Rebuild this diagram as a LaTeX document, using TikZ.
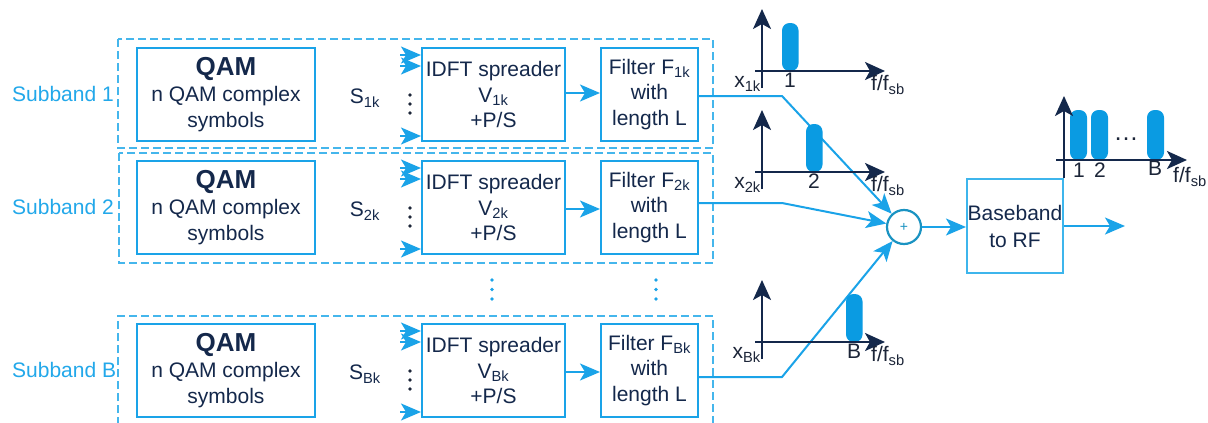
\documentclass[tikz,border=0pt]{standalone}
\usepackage{fontspec}
\setmainfont{Liberation Sans}
\usetikzlibrary{arrows.meta}
\definecolor{cyanl}{HTML}{1AA3E8}
\definecolor{dashc}{HTML}{45B6EC}
\definecolor{navy}{HTML}{14284B}
\definecolor{barc}{HTML}{0A9BE2}
\definecolor{sumc}{HTML}{1A93C2}
\definecolor{subc}{HTML}{22A8EA}
\definecolor{bbc}{HTML}{3DB5EC}
\definecolor{txtd}{HTML}{1C2538}
\newcommand\sbt[1]{\textsubscript{#1}}
\begin{document}
\begin{tikzpicture}[x=1pt,y=-1pt,
  font=\fontsize{21}{25.5}\selectfont,
  blk/.style={draw=cyanl, line width=2pt, text=navy, align=center, inner sep=0pt, minimum height=93pt},
  dbox/.style={draw=dashc, line width=1.4pt, dash pattern=on 8pt off 4pt},
  con/.style={draw=cyanl, line width=2pt},
  arr/.style={con, -{Stealth[length=20pt,width=17pt,inset=5pt]}},
  ax/.style={draw=navy, line width=2.2pt, -{Stealth[length=20pt,width=18pt,inset=5pt]}},
  barn/.style={fill=barc, rounded corners=7.5pt},
  lab/.style={text=txtd, inner sep=0pt},
  sublab/.style={text=subc, inner sep=0pt, anchor=west},
  ]
\fill[white] (0,0) rectangle (1208,423);
\useasboundingbox (0,0) rectangle (1208,423);

% dashed subband frames
\draw[dbox] (118,39) rectangle (713,148);
\draw[dbox] (119,153) rectangle (713,263);
\draw[dbox] (118,425) -- (118,316) -- (713,316) -- (713,425);

\foreach \r/\o/\ay/\oy in {1/0/93/96, 2/113/209/203, B/276/372/377}{
  \node[sublab] (sub\r) at (12,94+\o) {Subband \r};
  \node[blk, minimum width=178pt, text=navy] (qam\r) at (226,94.5+\o)
    {{\fontsize{26}{27}\selectfont\bfseries QAM}\\[1pt] \fontsize{21}{27}\selectfont n QAM complex\\ symbols};
  \node[lab, text=navy] (s\r) at (365,98+\o) {S\sbt{\r k}};
  \foreach \d in {0,9,18}{ \fill[txtd] (410,95+\o+\d) circle (1.8); }
  \node[blk, minimum width=143pt] (idft\r) at (493.5,94.5+\o)
    {IDFT spreader\\ V\sbt{\r k}\\ +P/S};
  \node[blk, minimum width=97pt] (filt\r) at (649.5,94.5+\o)
    {Filter F\sbt{\r k}\\ with\\ length L};
  \coordinate (ina\r) at (400,55+\o);
  \coordinate (inb\r) at (400,66+\o);
  \coordinate (inc\r) at (400,136+\o);
  \draw[arr] (ina\r) -- (idft\r.west |- ina\r);
  \draw[arr] (inb\r) -- (idft\r.west |- inb\r);
  \draw[arr] (inc\r) -- (idft\r.west |- inc\r);
  \coordinate (ma\r) at (565,\ay);
  \draw[arr] (idft\r.east |- ma\r) -- (filt\r.west |- ma\r);
  \coordinate (o\r) at (698,\oy);
  \coordinate (k\r) at (782,\oy);
}

% cyan vertical dots
\foreach \d in {0,9.5,19}{
  \fill[cyanl] (492,280+\d) circle (1.9);
  \fill[cyanl] (656,280+\d) circle (1.9);
}

% summation and RF
\node[circle, draw=sumc, line width=2.2pt, minimum size=34pt, inner sep=0pt,
      text=sumc, font=\fontsize{14}{14}\selectfont] (sum) at (904,227) {+};
\node[blk, draw=bbc, minimum width=96pt, minimum height=94pt, font=\fontsize{21}{27}\selectfont] (bb) at (1015,226) {Baseband\\ to RF};
\coordinate (out) at (1125,226);

\draw[arr] (o1) -- (k1) -- (sum);
\draw[arr] (o2) -- (k2) -- (sum);
\draw[arr] (oB) -- (kB) -- (sum);
\draw[arr] (sum) -- (bb.west |- sum);
\draw[arr] (bb.east |- out) -- (out);

% spectra of subbands
\foreach \r/\o/\bx/\n in {1/0/782/1, 2/101/806/2, B/271/846/B}{
  \fill[barn] (\bx,23+\o) rectangle (\bx+16.5,71+\o);
  \draw[ax] (762,88+\o) -- (762,9+\o);
  \draw[ax] (755,71+\o) -- (885,71+\o);
  \node[lab] (n\r) at (\bx+8,80+\o) {\n};
  \node[lab, anchor=east] (x\r) at (761,84+\o) {x\sbt{\r k}};
  \node[lab] (f\r) at (888,85+\o) {f/f\sbt{sb}};
}

% combined spectrum
\fill[barn] (1070,110) rectangle (1087,160);
\fill[barn] (1091,110) rectangle (1108,160);
\fill[barn] (1147,110) rectangle (1164,160);
\draw[ax] (1064,178) -- (1064,96);
\draw[ax] (1056,160) -- (1187,160);
\node[lab] (c1) at (1079,170) {1};
\node[lab] (c2) at (1100,170) {2};
\node[lab] (cB) at (1155,168) {B};
\node[lab, font=\fontsize{25}{25}\selectfont] (cd) at (1126,139) {\dots};
\node[lab] (cf) at (1190,177) {f/f\sbt{sb}};
\end{tikzpicture}
\end{document}
